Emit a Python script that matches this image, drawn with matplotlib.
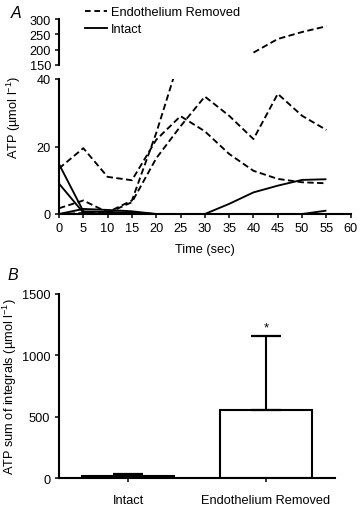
import numpy as np
import matplotlib
matplotlib.use("Agg")
import matplotlib.pyplot as plt
from matplotlib.lines import Line2D

plt.rcParams['font.family'] = ['Liberation Sans', 'DejaVu Sans']
plt.rcParams['mathtext.fontset'] = 'custom'
plt.rcParams['mathtext.rm'] = 'Liberation Sans'
plt.rcParams['mathtext.it'] = 'Liberation Sans:italic'
plt.rcParams['mathtext.bf'] = 'Liberation Sans:bold'

nan = np.nan
time_s = [0, 5, 10, 15, 20, 25, 30, 35, 40, 45, 50, 55]
removed_1 = [13.5, 19.5, 11, 10, 22, 29, 24.5, 17.8, 12.8, 10.4, 9.4, 9.1]
removed_2 = [1.7, 4, 0.5, 4, 24, 47, nan, nan, 190, 235, 258, 277]
removed_3 = [0, 0.3, 0.3, 3.5, 16.5, 26, 34.8, 29.1, 22.2, 35.6, 29.1, 24.9]
intact_1 = [14.8, 0.8, 0.6, 0.4, 0, 0, 0, 0, 0, 0, 0, 0]
intact_2 = [9, 0.4, 0, 0, 0, 0, 0, 0, 0, 0, 0, 0]
intact_3 = [0, 1.5, 1.2, 0.8, 0, 0, 0, 0, 0, 0, 0, 0]
intact_4 = [0, 0, 0, 0, 0, 0, 0, 3, 6.4, 8.4, 10.1, 10.3]
intact_5 = [0, 0, 0, 0, 0, 0, 0, 0, 0, 0, 0, 1]
removed_series = [removed_1, removed_2, removed_3]
intact_series = [intact_1, intact_2, intact_3, intact_4, intact_5]

bar_categories = ["Intact", "Endothelium Removed"]
bar_means = [15, 555]
bar_err = [20, 605]

W, H = 360, 506
fig = plt.figure(figsize=(W / 100, H / 100), dpi=100)

def fx(px):
    return px / W

def fy(py):
    return 1 - py / H

FS = 9.2
LW_SP = 1.5
DASH = (0, (3.4, 1.8))
LW = 1.35

ax_lo = fig.add_axes([fx(59), fy(215), fx(350.7 - 59), (215 - 80) / H])
ax_hi = fig.add_axes([fx(59), fy(65.7), fx(350.7 - 59), (65.7 - 20.3) / H])

for ax in (ax_lo, ax_hi):
    for s in removed_series:
        ax.plot(time_s, s, color='black', lw=LW, linestyle=DASH, dash_capstyle='butt')
    for s in intact_series:
        ax.plot(time_s, s, color='black', lw=LW, solid_capstyle='butt')
    ax.set_xlim(0, 60)
    ax.spines['top'].set_visible(False)
    ax.spines['right'].set_visible(False)
    ax.spines['left'].set_linewidth(LW_SP)
    ax.spines['bottom'].set_linewidth(LW_SP)
    ax.tick_params(width=1.1, length=3.2, labelsize=FS, pad=2.5, direction='out')

ax_lo.set_ylim(0, 40)
ax_lo.set_yticks([0, 20, 40])
ax_lo.set_xticks(range(0, 61, 5))

ax_hi.set_ylim(150, 300)
ax_hi.set_yticks([150, 200, 250, 300])
ax_hi.spines['bottom'].set_visible(False)
ax_hi.set_xticks([])
ax_hi.patch.set_alpha(0)

fig.text(fx(14), fy(117), 'ATP (µmol l$^{-1}$)', rotation=90, ha='center', va='center', fontsize=FS)
fig.text(fx(205), fy(250), 'Time (sec)', ha='center', va='center', fontsize=FS)
fig.text(fx(16), fy(14), 'A', ha='center', va='center', fontsize=11.5, style='italic')

handles = [Line2D([], [], color='black', lw=LW, linestyle=(0, (3.0, 2.0))),
           Line2D([], [], color='black', lw=LW)]
fig.legend(handles, ['Endothelium Removed', 'Intact'], loc='upper left',
           bbox_to_anchor=(fx(85), fy(7)), frameon=False, fontsize=FS,
           borderpad=0, borderaxespad=0, handlelength=1.7, handletextpad=0.3,
           labelspacing=0.42)

# Panel B
ax_b = fig.add_axes([fx(59), fy(479.3), fx(335 - 59), (479.3 - 295) / H])
xpos = np.arange(len(bar_categories))
ax_b.bar(xpos, bar_means, width=0.667, color='white', edgecolor='black', linewidth=1.5)
ax_b.errorbar(xpos, bar_means, yerr=[np.zeros(len(bar_err)), bar_err], fmt='none',
              ecolor='black', elinewidth=1.5, capsize=11, capthick=1.6)
ax_b.text(xpos[1], bar_means[1] + bar_err[1] + 15, '*', ha='center', va='bottom', fontsize=FS + 0.5)
ax_b.set_xlim(-0.5, 1.5)
ax_b.set_ylim(0, 1500)
ax_b.set_yticks([0, 500, 1000, 1500])
ax_b.set_xticks(xpos)
ax_b.set_xticklabels(bar_categories)
ax_b.spines['top'].set_visible(False)
ax_b.spines['right'].set_visible(False)
ax_b.spines['left'].set_linewidth(LW_SP)
ax_b.spines['bottom'].set_linewidth(LW_SP)
ax_b.tick_params(width=1.1, length=3.2, labelsize=FS, pad=3, direction='out')
ax_b.tick_params(axis='x', pad=8)

fig.text(fx(10), fy(387), 'ATP sum of integrals (µmol l$^{-1}$)', rotation=90,
         ha='center', va='center', fontsize=FS)
fig.text(fx(13), fy(276), 'B', ha='center', va='center', fontsize=11.5, style='italic')

fig.savefig('out.png', dpi=100)
